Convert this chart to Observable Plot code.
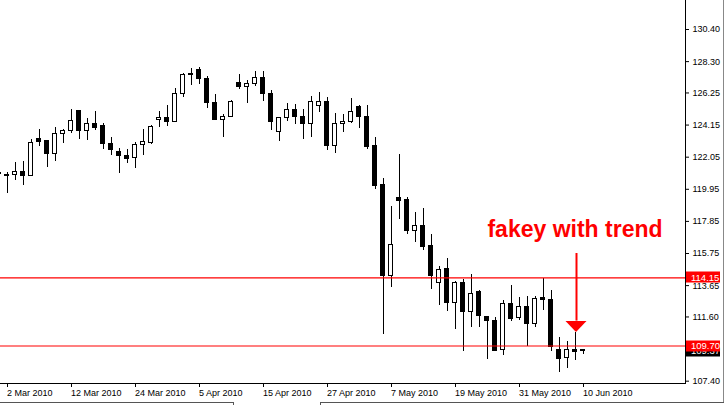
<!DOCTYPE html>
<html><head><meta charset="utf-8">
<script src="https://cdn.jsdelivr.net/npm/d3@7"></script>
<script src="https://cdn.jsdelivr.net/npm/@observablehq/plot@0.6"></script>
<style>
html,body{margin:0;padding:0;background:#fff;}
#chart{position:relative;width:726px;height:405px;overflow:hidden;}
</style></head><body><div id="chart"></div>
<script>
// Daily candles, 1 Mar 2010 .. 10 Jun 2010 (weekdays)
const open  = [121.00,120.90,120.87,121.09,120.81,123.21,123.14,122.24,123.58,123.75,125.10,123.75,124.23,124.06,122.92,122.42,122.14,121.98,122.86,122.96,124.47,124.63,124.34,126.17,127.52,127.76,127.18,125.61,124.49,124.66,126.91,126.65,126.82,127.26,126.21,123.68,124.63,125.15,124.69,124.21,125.38,125.67,122.77,124.23,124.34,125.35,124.71,122.75,120.20,114.26,119.35,119.22,117.21,117.58,116.21,113.81,114.75,112.53,113.79,111.93,113.20,111.61,111.36,109.45,112.46,111.52,112.26,111.14,112.85,112.72,109.45,108.90,109.47,109.45];
const high  = [121.30,121.05,121.70,121.77,123.23,123.86,123.16,123.99,123.86,125.17,125.12,124.56,125.04,124.25,123.34,122.62,122.55,123.01,123.86,124.14,125.04,125.43,126.54,127.50,127.85,127.91,127.33,126.15,124.84,125.76,127.46,127.06,127.65,127.65,126.41,124.63,125.56,125.50,125.15,126.02,126.28,125.95,124.91,124.84,125.89,125.43,125.43,123.34,120.66,118.83,122.22,119.43,118.43,118.69,116.99,114.90,115.40,113.92,114.08,114.38,113.30,111.62,111.58,112.68,113.64,112.85,112.94,112.97,114.10,113.33,110.24,110.02,110.59,109.50];
const low   = [120.60,119.69,120.52,120.20,120.78,122.77,121.39,121.79,122.96,123.62,123.23,123.16,123.81,122.57,122.18,121.00,121.66,121.33,122.18,122.90,124.01,124.08,124.32,125.93,126.76,126.82,125.25,124.43,123.36,124.63,126.50,125.58,126.69,125.71,123.81,123.09,124.40,124.21,123.23,123.36,124.99,122.51,122.31,123.68,124.27,123.93,122.57,119.92,110.45,113.55,117.99,117.01,116.49,115.97,113.42,112.38,111.98,110.80,109.36,110.93,110.94,108.80,109.34,109.10,111.28,111.37,109.67,110.93,112.04,109.34,107.97,108.25,108.76,109.17];
const close = [120.92,120.81,121.09,120.81,122.99,123.03,122.24,123.58,123.79,124.43,123.75,124.23,123.95,122.90,122.51,122.11,121.92,122.86,123.01,124.04,124.63,124.34,126.20,127.44,127.41,127.15,125.58,124.45,124.69,125.67,126.63,126.85,127.24,126.17,124.34,124.58,125.15,124.66,124.21,125.67,125.67,122.77,124.25,124.36,125.02,124.66,122.72,120.15,114.26,116.32,119.17,117.21,117.58,116.16,114.26,114.69,112.53,113.79,111.93,113.07,111.65,111.33,109.36,112.46,111.45,112.26,111.14,112.79,112.70,109.62,108.84,109.47,109.32,109.37];

const tickLabels = ["2 Mar 2010","12 Mar 2010","24 Mar 2010","5 Apr 2010","15 Apr 2010","27 Apr 2010","7 May 2010","19 May 2010","31 May 2010","10 Jun 2010"];
const yTicks = [130.40,128.30,126.25,124.15,122.05,119.95,117.85,115.75,113.65,111.60,109.50,107.40];
const levels = [114.15, 109.70];
const lastPrice = 109.37;
const note = "fakey with trend";
const noteDate = "9 Jun 2010";
const noteY = 116.82, arrowFrom = 115.75, arrowTo = 111.33;

const fmt = d3.utcFormat("%-d %b %Y");
const days = d3.utcDays(new Date(Date.UTC(2010,2,1)), new Date(Date.UTC(2010,5,12)))
  .filter(d => d.getUTCDay() !== 0 && d.getUTCDay() !== 6);
const data = open.map((o, k) => ({i: k, date: fmt(days[k]), open: o, high: high[k], low: low[k], close: close[k]}));
const tickIdx = data.filter(d => tickLabels.includes(d.date)).map(d => d.i);
const noteIdx = data.find(d => d.date === noteDate).i;

const RED = "#ff0000";
const tri = {draw(ctx, l) { ctx.moveTo(-10.5, 0); ctx.lineTo(10.5, 0); ctx.lineTo(0, -l); ctx.closePath(); }};

const plot = Plot.plot({
  width: 726, height: 405,
  marginLeft: 0, marginRight: 41, marginTop: 0, marginBottom: 22,
  style: {fontFamily: "'Liberation Sans', Arial, sans-serif", fontSize: "9px", background: "#fff", color: "#000", overflow: "visible"},
  x: {domain: [0.1875, 85.8125], label: null},
  y: {domain: [107.248, 132.297], label: null},
  marks: [
    Plot.ruleX(data, {x: "i", y1: "low", y2: "high", stroke: "#000", shapeRendering: "crispEdges"}),
    Plot.rect(data, {x1: d => d.i - 0.25, x2: d => d.i + 0.25, y1: "open", y2: "close",
      fill: d => d.close >= d.open ? "#ffffff" : "#000000", stroke: "#000", shapeRendering: "crispEdges"}),
    Plot.ruleY(levels, {stroke: RED, strokeWidth: 1.2}),
    Plot.text([note], {x: noteIdx, y: noteY, text: d => d, lineAnchor: "bottom", fontSize: 23, fontWeight: "bold", fill: RED}),
    Plot.ruleX([noteIdx], {y1: arrowFrom, y2: arrowTo, stroke: RED, strokeWidth: 2, dx: 1.5}),
    Plot.vector([noteIdx], {x: d => d, y: arrowTo, rotate: 180, length: 11, anchor: "start", shape: tri, fill: RED, stroke: "none", dx: 1}),
    Plot.frame({anchor: "right", stroke: "#000", shapeRendering: "crispEdges"}),
    Plot.frame({anchor: "bottom", stroke: "#000", shapeRendering: "crispEdges"}),
    Plot.axisX({ticks: tickIdx, tickFormat: k => data[k].date, tickSize: 4, tickPadding: 2, textAnchor: "start", dx: 0, shapeRendering: "crispEdges"}),
    Plot.axisY({anchor: "right", ticks: yTicks, tickFormat: d => d.toFixed(2), tickSize: 3, tickPadding: 4})
  ]
});
document.getElementById("chart").appendChild(plot);

// price labels on the right axis, placed through the plot's y scale
const ys = plot.scale("y");
const svg = d3.select(plot);
const g = svg.append("g").attr("text-anchor", "start");
function priceBox(v, bg) {
  const y = ys.apply(v);
  g.append("rect").attr("x", 686).attr("y", Math.round(y) - 5.5).attr("width", 34).attr("height", 11).attr("fill", bg);
  g.append("text").attr("x", 691).attr("y", y).attr("dy", "0.35em").attr("fill", "#fff")
    .attr("text-anchor", "start").attr("font-size", 9.5).text(v.toFixed(2));
}
priceBox(lastPrice, "#000");
levels.forEach(v => priceBox(v, RED));

// window chrome
g.append("line").attr("x1", 723.5).attr("x2", 723.5).attr("y1", 0).attr("y2", 402).attr("stroke", "#888");
g.append("line").attr("x1", 0).attr("x2", 233).attr("y1", 402.5).attr("y2", 402.5).attr("stroke", "#555");
g.append("line").attr("x1", 320).attr("x2", 724).attr("y1", 402.5).attr("y2", 402.5).attr("stroke", "#555");
g.append("line").attr("x1", 233.5).attr("x2", 233.5).attr("y1", 402).attr("y2", 405).attr("stroke", "#555");
g.append("line").attr("x1", 320.5).attr("x2", 320.5).attr("y1", 402).attr("y2", 405).attr("stroke", "#555");
</script></body></html>
